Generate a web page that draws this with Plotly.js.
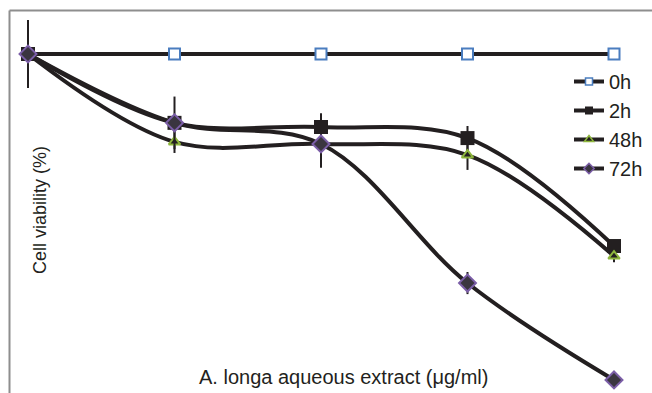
<!DOCTYPE html>
<html>
<head>
<meta charset="utf-8">
<script src="https://cdn.plot.ly/plotly-3.0.1.min.js"></script>
<style>
html,body{margin:0;padding:0;background:#fff;}
#chart{width:652px;height:393px;}
</style>
</head>
<body>
<div id="chart"></div>
<script>
// Concentration steps (categories, unlabeled in the original)
const doses = [0, 1, 2, 3, 4];
const seriesNames = ["0h", "2h", "48h", "72h"];
// Cell viability (%)
const v0h  = [100, 100, 100, 100, 100];
const v2h  = [100, 80.1, 78.9, 75.7, 44.5];
const v48h = [100, 74.6, 74.0, 70.8, 41.6];
const v72h = [100, 80.1, 74.0, 33.8, 5.8];
// error bar half-lengths (%)
const e0h  = [0, 0, 0, 0, 0];
const e2h  = [0, 0, 4.0, 3.5, 1.0];
const e48h = [0, 3.2, 0, 4.3, 1.8];
const e72h = [9.8, 7.6, 6.9, 3.2, 1.0];

const INK = "#231f20";
const styles = [
  {symbol: "square", size: 11, color: "#ffffff", lc: "#4a7dbf", lw: 2, ls: 7},
  {symbol: "square", size: 14, color: INK, lc: INK, lw: 0, ls: 8},
  {symbol: "triangle-up", size: 10, color: INK, lc: "#8db53c", lw: 2, ls: 8},
  {symbol: "diamond", size: 13, color: "#3a3540", lc: "#7b5ea7", lw: 2, ls: 8}
];
const vals = [v0h, v2h, v48h, v72h];
const errs = [e0h, e2h, e48h, e72h];

const traces = [];
vals.forEach((v, i) => {
  const s = styles[i];
  traces.push({
    x: doses, y: v, type: "scatter", mode: "lines+markers",
    name: seriesNames[i], showlegend: false, cliponaxis: false,
    line: {color: INK, width: 4, shape: "spline", smoothing: 1},
    marker: {symbol: s.symbol, size: s.size, color: s.color, line: {color: s.lc, width: s.lw}},
    error_y: {type: "data", array: errs[i], visible: true, color: INK, thickness: 2, width: 0}
  });
});
// legend entries (smaller legend symbols as in the original); no data drawn
seriesNames.forEach((name, i) => {
  const s = styles[i];
  traces.push({
    x: [null], y: [null], type: "scatter", mode: "lines+markers",
    name: name, showlegend: true,
    line: {color: INK, width: 4},
    marker: {symbol: s.symbol, size: s.ls, color: s.color, line: {color: s.lc, width: s.lw ? 1.5 : 0}}
  });
});

const W = 652, H = 393;
const layout = {
  width: W, height: H,
  margin: {l: 0, r: 0, t: 0, b: 0},
  paper_bgcolor: "#ffffff", plot_bgcolor: "rgba(0,0,0,0)",
  font: {family: "Liberation Sans, Arial, sans-serif", color: INK},
  showlegend: true,
  legend: {
    x: 569 / W, xanchor: "left", y: 1 - 62 / H, yanchor: "top",
    bgcolor: "rgba(0,0,0,0)", borderwidth: 0,
    font: {size: 20, color: INK}, tracegroupgap: 0, itemclick: false
  },
  xaxis: {
    range: [-28 / 146.5, 4 + 38 / 146.5],
    showgrid: false, zeroline: false, showline: false, showticklabels: false, ticks: ""
  },
  yaxis: {
    range: [7 / 3.46, 400 / 3.46],
    showgrid: false, zeroline: false, showline: false, showticklabels: false, ticks: ""
  },
  shapes: [
    {type: "line", xref: "paper", yref: "paper", x0: 9.5 / W, x1: 9.5 / W, y0: 0, y1: 1 - 10.5 / H,
     line: {color: "#8e8e8e", width: 2}},
    {type: "line", xref: "paper", yref: "paper", x0: 9.5 / W, x1: 1, y0: 1 - 10.5 / H, y1: 1 - 10.5 / H,
     line: {color: "#8e8e8e", width: 2}}
  ],
  annotations: [
    {text: "Cell viability (%)", xref: "paper", yref: "paper", x: 40 / W, y: 1 - 210 / H,
     textangle: -90, showarrow: false, font: {size: 18, color: INK}, xanchor: "center", yanchor: "middle"},
    {text: "A. longa aqueous extract (μg/ml)", xref: "paper", yref: "paper", x: 343 / W, y: 1 - 377 / H,
     showarrow: false, font: {size: 20, color: INK}, xanchor: "center", yanchor: "middle"}
  ]
};

Plotly.newPlot("chart", traces, layout, {displayModeBar: false, staticPlot: true});
</script>
</body>
</html>
